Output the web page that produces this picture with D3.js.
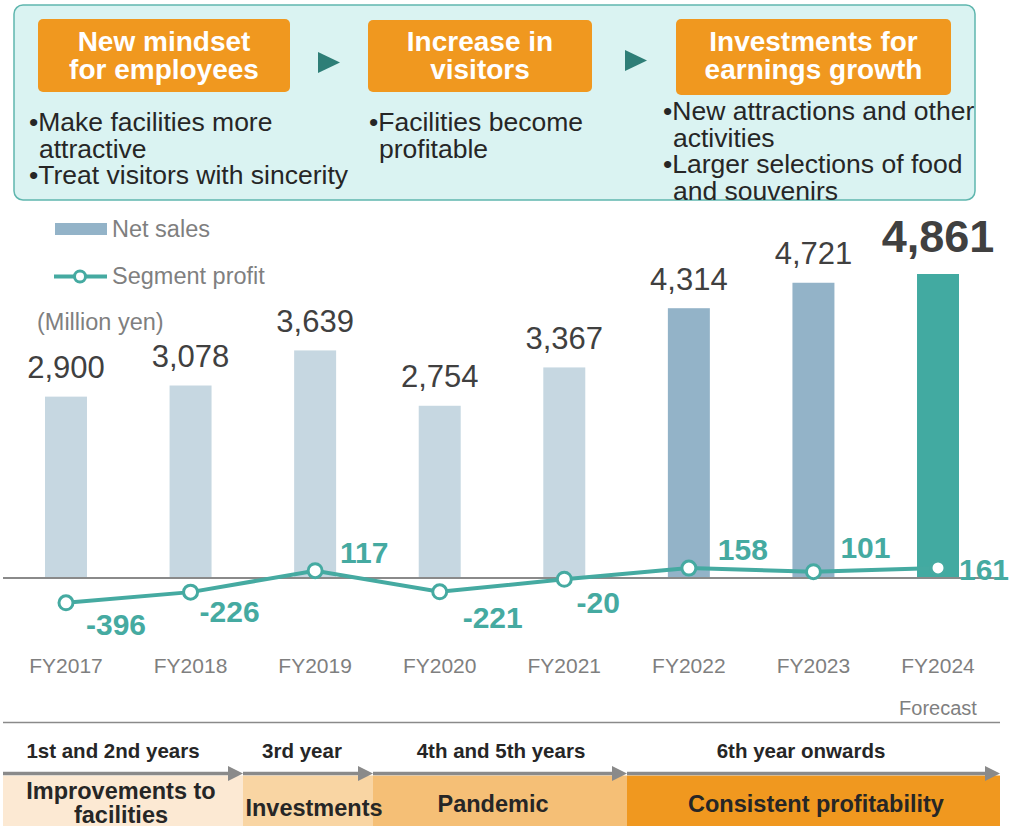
<!DOCTYPE html>
<html>
<head>
<meta charset="utf-8">
<script src="https://cdn.jsdelivr.net/npm/d3@7"></script>
<style>
  body { margin: 0; background: #fff; }
  text { font-family: "Liberation Sans", Arial, sans-serif; }
</style>
</head>
<body>
<div id="main"></div>
<script>
// chart data
const years = ["FY2017", "FY2018", "FY2019", "FY2020", "FY2021", "FY2022", "FY2023", "FY2024"];
const netSales = [2900, 3078, 3639, 2754, 3367, 4314, 4721, 4861];
const segmentProfit = [-396, -226, 117, -221, -20, 158, 101, 161];
const barPhase = ["past", "past", "past", "past", "past", "recent", "recent", "forecast"];

// where each profit label sits relative to its point
const profitLabelDx = [50, 39, 49, 53, 34, 54, 52, 46];
const profitLabelDy = [32, 30, -8, 36, 34, -8, -14, 12];

// top panel
const stepTitles = [["New mindset", "for employees"], ["Increase in", "visitors"], ["Investments for", "earnings growth"]];
const stepBullets = [
  [["Make facilities more", "attractive"], ["Treat visitors with sincerity"]],
  [["Facilities become", "profitable"]],
  [["New attractions and other", "activities"], ["Larger selections of food", "and souvenirs"]]
];

// bottom timeline
const stageHeads = ["1st and 2nd years", "3rd year", "4th and 5th years", "6th year onwards"];
const stageBodies = [["Improvements to", "facilities"], ["Investments"], ["Pandemic"], ["Consistent profitability"]];

const ctx = {width: 1013, height: 826, zeroY: 578};

const phaseColor = {past: "#c6d7e1", recent: "#93b3c8", forecast: "#42aaa1"};
const teal = "#45aaa1";

const svg = d3.select("#main").append("svg")
  .attr("width", ctx.width)
  .attr("height", ctx.height);

// ---------- top panel ----------
const panel = svg.append("g");
panel.append("rect")
  .attr("x", 14).attr("y", 5).attr("width", 961).attr("height", 195)
  .attr("rx", 9)
  .attr("fill", "#daf3f2").attr("stroke", "#5fb6ae").attr("stroke-width", 1.5);

const boxes = [{x: 38, y: 19, w: 252, h: 73}, {x: 368, y: 20, w: 224, h: 72}, {x: 676, y: 19, w: 275, h: 76}];
const bulletX = [29, 369, 663];
const bulletTop = [131, 131, 120];

stepTitles.forEach(function(t, i){
  const b = boxes[i];
  panel.append("rect")
    .attr("x", b.x).attr("y", b.y).attr("width", b.w).attr("height", b.h)
    .attr("rx", 5).attr("fill", "#f0981f");
  panel.append("text")
    .attr("x", b.x + b.w/2).attr("y", 51)
    .attr("text-anchor", "middle").attr("fill", "#fff")
    .attr("font-size", 28).attr("font-weight", "bold")
    .selectAll("tspan").data(t).join("tspan")
      .attr("x", b.x + b.w/2)
      .attr("dy", (d, j) => j == 0 ? 0 : 28)
      .text(d => d);

  let line = 0;
  stepBullets[i].forEach(function(lines){
    lines.forEach(function(l, k){
      panel.append("text")
        .attr("x", bulletX[i] + (k == 0 ? 0 : 10))
        .attr("y", bulletTop[i] + line * 26.5)
        .attr("fill", "#262626").attr("font-size", 26.5)
        .text((k == 0 ? "\u2022" : "") + l);
      line += 1;
    });
  });
});

// arrows between steps
[[318, 52, 22, 21], [625, 50, 22, 21]].forEach(function(a){
  panel.append("path")
    .attr("d", `M${a[0]},${a[1]} L${a[0]+a[2]},${a[1]+a[3]/2} L${a[0]},${a[1]+a[3]} Z`)
    .attr("fill", "#2e7e77");
});

// ---------- chart ----------
const x = d3.scaleBand()
  .domain(years)
  .range([3.7, 1000.3])
  .paddingInner(0.663)
  .paddingOuter(0.3315);

const y = d3.scaleLinear()
  .domain([0, 4861])
  .range([ctx.zeroY, 274]);

const cx = d => x(d) + x.bandwidth()/2;

const chart = svg.append("g");

chart.selectAll("rect.bar")
  .data(years)
  .join("rect")
    .attr("class", "bar")
    .attr("x", d => x(d))
    .attr("width", x.bandwidth())
    .attr("y", (d, i) => y(netSales[i]))
    .attr("height", (d, i) => y(0) - y(netSales[i]))
    .attr("fill", (d, i) => phaseColor[barPhase[i]]);

// sales labels
chart.selectAll("text.sales")
  .data(years)
  .join("text")
    .attr("class", "sales")
    .attr("x", d => cx(d))
    .attr("y", (d, i) => y(netSales[i]) - (barPhase[i] == "forecast" ? 22 : 18.5))
    .attr("text-anchor", "middle")
    .attr("fill", "#404040")
    .attr("font-size", (d, i) => barPhase[i] == "forecast" ? 45 : 31)
    .attr("font-weight", (d, i) => barPhase[i] == "forecast" ? "bold" : "normal")
    .text((d, i) => d3.format(",")(netSales[i]));

// zero line
chart.append("line")
  .attr("x1", 3).attr("x2", 1000)
  .attr("y1", y(0)).attr("y2", y(0))
  .attr("stroke", "#8a8a8a").attr("stroke-width", 2);

// profit line
const lineGen = d3.line()
  .x((d, i) => cx(years[i]))
  .y(d => y(d));

chart.append("path")
  .datum(segmentProfit)
  .attr("d", lineGen)
  .attr("fill", "none")
  .attr("stroke", teal)
  .attr("stroke-width", 4);

chart.selectAll("circle.pt")
  .data(segmentProfit)
  .join("circle")
    .attr("class", "pt")
    .attr("cx", (d, i) => cx(years[i]))
    .attr("cy", d => y(d))
    .attr("r", 7)
    .attr("fill", "#fff")
    .attr("stroke", teal)
    .attr("stroke-width", 3);

chart.selectAll("text.profit")
  .data(segmentProfit)
  .join("text")
    .attr("class", "profit")
    .attr("x", (d, i) => cx(years[i]) + profitLabelDx[i])
    .attr("y", (d, i) => y(d) + profitLabelDy[i])
    .attr("text-anchor", "middle")
    .attr("fill", teal)
    .attr("font-size", 30)
    .attr("font-weight", "bold")
    .text(d => d);

// category labels
chart.selectAll("text.year")
  .data(years)
  .join("text")
    .attr("class", "year")
    .attr("x", d => cx(d))
    .attr("y", 673)
    .attr("text-anchor", "middle")
    .attr("fill", "#7f7f7f")
    .attr("font-size", 21)
    .text(d => d);

chart.append("text")
  .attr("x", cx("FY2024")).attr("y", 715)
  .attr("text-anchor", "middle")
  .attr("fill", "#7f7f7f").attr("font-size", 20)
  .text("Forecast");

// legend
const legend = svg.append("g");
legend.append("rect")
  .attr("x", 55).attr("y", 223).attr("width", 52).attr("height", 12)
  .attr("fill", phaseColor.recent);
legend.append("text")
  .attr("x", 112).attr("y", 237)
  .attr("fill", "#7f7f7f").attr("font-size", 23.5)
  .text("Net sales");
legend.append("line")
  .attr("x1", 54).attr("x2", 107).attr("y1", 276.5).attr("y2", 276.5)
  .attr("stroke", teal).attr("stroke-width", 4);
legend.append("circle")
  .attr("cx", 80).attr("cy", 276.5).attr("r", 5.5)
  .attr("fill", "#fff").attr("stroke", teal).attr("stroke-width", 3);
legend.append("text")
  .attr("x", 112).attr("y", 284)
  .attr("fill", "#7f7f7f").attr("font-size", 23.5)
  .text("Segment profit");
legend.append("text")
  .attr("x", 37).attr("y", 330)
  .attr("fill", "#7f7f7f").attr("font-size", 23.5)
  .text("(Million yen)");

// ---------- timeline ----------
const tl = svg.append("g");
tl.append("line")
  .attr("x1", 3).attr("x2", 1000).attr("y1", 722.5).attr("y2", 722.5)
  .attr("stroke", "#8a8a8a").attr("stroke-width", 1.5);

const stageEdges = [3, 243, 373, 627, 1000];
const stageFill = ["#fce9d3", "#f9d5a3", "#f5bf76", "#f0981f"];
const headX = [113, 302, 501, 801];
const bodyX = [121, 314, 493, 816];

const tlBlocks = tl.append("g");
const tlText = tl.append("g");

stageHeads.forEach(function(h, i){
  const x0 = stageEdges[i], x1 = stageEdges[i+1];
  tlBlocks.append("rect")
    .attr("x", x0).attr("y", 775.5).attr("width", x1 - x0).attr("height", 60)
    .attr("fill", stageFill[i]);
  tlBlocks.append("line")
    .attr("x1", x0).attr("x2", x1 - 12).attr("y1", 773.5).attr("y2", 773.5)
    .attr("stroke", "#8a8a8a").attr("stroke-width", 3.5);
  tlBlocks.append("path")
    .attr("d", `M${x1-15},${766} L${x1},${773.5} L${x1-15},${781} Z`)
    .attr("fill", "#8a8a8a");
  tlText.append("text")
    .attr("x", headX[i]).attr("y", 758)
    .attr("text-anchor", "middle")
    .attr("fill", "#262626").attr("font-size", 20.5).attr("font-weight", "bold")
    .text(h);
  const body = stageBodies[i];
  tlText.append("text")
    .attr("text-anchor", "middle")
    .attr("fill", "#262626").attr("font-size", 23.5).attr("font-weight", "bold")
    .selectAll("tspan").data(body).join("tspan")
      .attr("x", bodyX[i])
      .attr("y", (d, j) => body.length > 1 ? 799 + j * 24 : (i == 1 ? 816 : 812))
      .text(d => d);
});
</script>
</body>
</html>
